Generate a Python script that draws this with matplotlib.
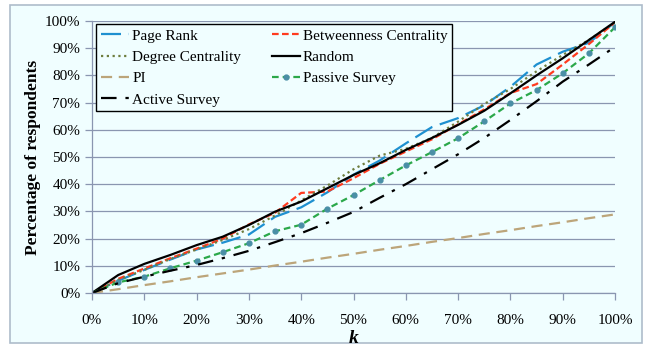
import matplotlib.pyplot as plt
from matplotlib.patches import Rectangle
from matplotlib.ticker import FuncFormatter

k = [0, 5, 10, 15, 20, 25, 30, 35, 40, 45, 50, 55, 60, 65, 70, 75, 80, 85, 90, 95, 100]

page_rank = [0, 4.5, 8.5, 12.3, 16, 18.5, 21.5, 28, 31.5, 37, 43.5, 48.7, 55, 61, 64.3, 69, 75.8, 84, 88.7, 92, 99.5]
betweenness = [0, 5.2, 9, 12.8, 16.3, 20, 25.2, 29.5, 36.8, 37.3, 42.2, 47.5, 52, 56.5, 62, 67.5, 73.5, 76.8, 84, 91.5, 99.5]
degree = [0, 4.8, 8.5, 12.5, 16, 19.5, 23.5, 28.5, 34, 39.5, 45.5, 50.5, 53, 57, 63, 69.5, 75, 81.5, 87.5, 93, 99.5]
random_sel = [0, 6.6, 10.7, 14.0, 17.6, 20.7, 25, 29.9, 33.6, 38.5, 43.4, 47.7, 52.6, 57, 61.8, 67, 73.4, 80, 86.3, 93, 99.7]
pi = [0, 1.4, 2.9, 4.3, 5.8, 7.2, 8.6, 10.1, 11.5, 13, 14.4, 15.9, 17.3, 18.8, 20.2, 21.7, 23.1, 24.6, 26, 27.5, 28.9]
passive = [0, 3.9, 6.0, 9.1, 11.9, 15.0, 18.3, 22.7, 25.1, 31.0, 36.0, 41.5, 46.9, 51.8, 56.9, 63.1, 69.7, 74.6, 80.8, 88.1, 97.7]
active = [0, 3.6, 6.0, 8.2, 10.3, 12.8, 15.5, 18.7, 22, 25.8, 29.8, 35, 40, 45.5, 51, 57, 63.6, 70.5, 77.7, 84, 90.5]

plt.rcParams['font.family'] = ['Liberation Serif', 'DejaVu Serif']

bg = '#F0FEFF'
grid_c = '#8A96B0'

fig = plt.figure(figsize=(6.51, 3.48), dpi=100, facecolor='white')
fig.patches.append(Rectangle((10 / 651, 5 / 348), 632 / 651, 338 / 348,
                             transform=fig.transFigure, facecolor=bg,
                             edgecolor='#AEBCCB', linewidth=1.2, zorder=-10))
ax = fig.add_axes([92 / 651, 1 - 293 / 348, 523 / 651, 272 / 348])
ax.set_facecolor('none')

h_pr, = ax.plot(k, page_rank, color='#1E90D0', linewidth=1.6, dashes=(9, 3.5), label='Page Rank')
h_bc, = ax.plot(k, betweenness, color='#FF3B1F', linewidth=1.6, dashes=(3, 1.5), label='Betweenness Centrality')
h_dc, = ax.plot(k, degree, color='#6E7D3E', linewidth=1.6, dashes=(1, 1.6), label='Degree Centrality')
h_rn, = ax.plot(k, random_sel, color='black', linewidth=1.6, label='Random')
h_pi, = ax.plot(k, pi, color='#BCA57A', linewidth=1.6, dashes=(5, 3), label='PI')
h_ps, = ax.plot(k, passive, color='#2BA84A', linewidth=1.6, dashes=(3, 1.8),
                marker='o', markersize=3.5, markerfacecolor='#4A8FA6',
                markeredgecolor='#4A8FA6', label='Passive Survey')
h_as, = ax.plot(k, active, color='black', linewidth=1.6, dashes=(7, 4, 1.5, 4), label='Active Survey')

ax.set_xlim(0, 100)
ax.set_ylim(0, 100)
ax.set_xticks(range(0, 101, 10))
ax.set_yticks(range(0, 101, 10))
pct = FuncFormatter(lambda v, p: f'{int(v)}%')
ax.xaxis.set_major_formatter(pct)
ax.yaxis.set_major_formatter(pct)
ax.grid(axis='y', color=grid_c, linewidth=0.9)
ax.set_axisbelow(True)
for s in ['top', 'right']:
    ax.spines[s].set_visible(False)
for s in ['left', 'bottom']:
    ax.spines[s].set_color(grid_c)
    ax.spines[s].set_linewidth(0.9)
ax.tick_params(axis='both', colors=grid_c, length=5, width=0.9, labelcolor='black', labelsize=11)
ax.tick_params(axis='x', pad=10)

ax.set_xlabel('k', fontsize=14, fontweight='bold', fontstyle='italic', labelpad=2)
ax.set_ylabel('Percentage of respondents', fontsize=12.5, fontweight='bold', labelpad=3)

handles = [h_pr, h_dc, h_pi, h_as, h_bc, h_rn, h_ps]
leg = ax.legend(handles=handles, ncol=2, loc='upper left', bbox_to_anchor=(0.008, 0.988),
                borderaxespad=0, fontsize=11, frameon=True, fancybox=False,
                edgecolor='black', facecolor=bg, framealpha=1,
                handlelength=1.85, handletextpad=0.2, columnspacing=2.0,
                labelspacing=0.5, borderpad=0.3)
leg.get_frame().set_linewidth(1.0)

fig.savefig('out.png', dpi=100, facecolor='white')
